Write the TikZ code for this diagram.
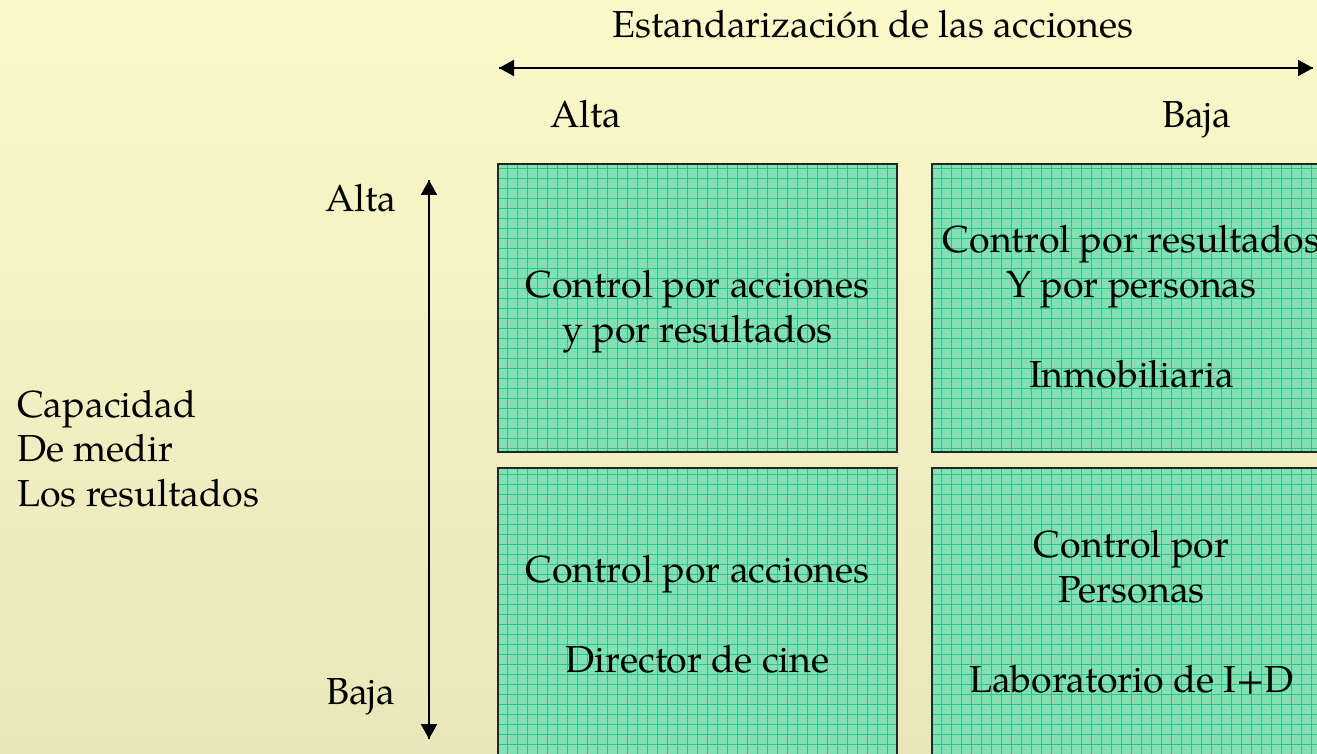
\documentclass[tikz,border=0pt]{standalone}
\usepackage{fontspec}
\setmainfont{TeX Gyre Pagella}
\usetikzlibrary{arrows.meta}
\definecolor{bgtop}{RGB}{251,249,201}
\definecolor{bgbot}{RGB}{233,230,186}
\definecolor{boxfill}{RGB}{132,223,178}
\definecolor{gridc}{RGB}{40,200,140}
\tikzset{
  quad/.style={draw=black!85, line width=2.2pt, fill=boxfill, inner sep=0pt,
    path picture={\draw[gridc, line width=0.9pt, step=10pt]
      ([xshift=-0.1pt]path picture bounding box.south west) grid (path picture bounding box.north east);}},
  txt/.style={font=\fontsize{37.6}{45}\selectfont, inner sep=0pt, align=center, anchor=base},
  lbl/.style={font=\fontsize{37.6}{45}\selectfont, inner sep=0pt, anchor=base west},
  axis/.style={line width=2pt, -{Triangle[length=15pt,width=16pt]}},
}
\begin{document}
\begin{tikzpicture}[x=1pt,y=-1pt]
\useasboundingbox (0,0) rectangle (1317,754);
\fill[top color=bgtop, bottom color=bgbot] (0,0) rectangle (1317,754);
% boxes
\node[quad, minimum width=399pt, minimum height=288pt] (tl) at (697.5,308) {};
\node[quad, minimum width=399pt, minimum height=288pt] (tr) at (1131.5,308) {};
\node[quad, minimum width=399pt, minimum height=292pt] (bl) at (697.5,614) {};
\node[quad, minimum width=399pt, minimum height=292pt] (br) at (1131.5,614) {};
% box texts (anchor = baseline of last line)
\node[txt] (ttl) at (697.5,342) {Control por acciones\\y por resultados};
\node[txt] (ttr) at (1131.5,387) {Control por resultados\\Y por personas\\\mbox{}\\Inmobiliaria};
\node[txt] (tbl) at (697.5,672) {Control por acciones\\\mbox{}\\Director de cine};
\node[txt] (tbr) at (1131.5,692) {Control por\\Personas\\\mbox{}\\Laboratorio de I+D};
% axes
\coordinate (hl) at (499,68);
\coordinate (hr) at (1313,68);
\coordinate (vt) at (429,180);
\coordinate (vb) at (429,739);
\draw[axis] (hr) -- (hl);
\draw[axis] (hl) -- (hr);
\draw[axis] (vb) -- (vt);
\draw[axis] (vt) -- (vb);
% labels
\node[txt] (title) at (873,38) {Estandarización de las acciones};
\node[lbl] (halta) at (550,128) {Alta};
\node[lbl] (hbaja) at (1162,128) {Baja};
\node[lbl] (valta) at (325,212) {Alta};
\node[lbl] (vbaja) at (326,704) {Baja};
\node[lbl, align=left, font=\fontsize{37.6}{44.5}\selectfont] (cap) at (17,506) {Capacidad\\De medir\\Los resultados};
\end{tikzpicture}
\end{document}
